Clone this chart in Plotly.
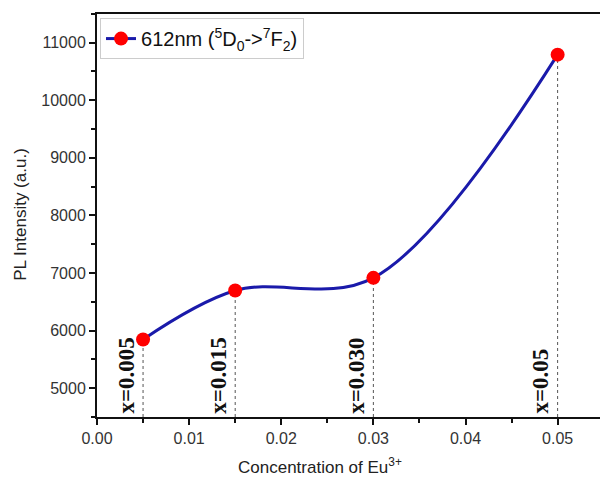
import plotly.graph_objects as go

conc = [0.005, 0.015, 0.030, 0.050]
intensity = [5845, 6695, 6915, 10790]
labels = ["x=0.005", "x=0.015", "x=0.030", "x=0.05"]
series_name = "612nm (<sup>5</sup>D<sub>0</sub>-><sup>7</sup>F<sub>2</sub>)"
x_ticks = [0.00, 0.01, 0.02, 0.03, 0.04, 0.05]
x_ticktext = ["0.00", "0.01", "0.02", "0.03", "0.04", "0.05"]
y_ticks = [5000, 6000, 7000, 8000, 9000, 10000, 11000]
y_ticktext = ["5000", "6000", "7000", "8000", "9000", "10000", "11000"]
x_title = "Concentration of Eu<sup>3+</sup>"
y_title = "PL Intensity (a.u.)"

Y0 = 4500
Y_TOP = 11530
fig = go.Figure()
fig.add_trace(go.Scatter(
    x=conc, y=intensity, mode="lines+markers", name=series_name,
    line=dict(color="#1a1aaa", width=3, shape="spline", smoothing=1.0),
    marker=dict(color="#ff0000", size=14),
))

for xv, yv, lab in zip(conc, intensity, labels):
    fig.add_shape(type="line", x0=xv, x1=xv, y0=Y0, y1=yv, xref="x", yref="y",
                  line=dict(color="#555555", width=1, dash="dot"), layer="below")
    fig.add_annotation(x=xv, y=Y0, xref="x", yref="y", text=f"<b>{lab}</b>",
                       textangle=-90, showarrow=False, xanchor="right", yanchor="bottom",
                       xshift=-3, yshift=1,
                       font=dict(family="Liberation Serif", size=23, color="#111111"))

# top frame line, in data coordinates just under the top edge
fig.add_shape(type="line", x0=0, x1=0.0546, y0=Y_TOP - 15, y1=Y_TOP - 15, xref="x", yref="y",
              line=dict(color="#111111", width=2.5), layer="above")

# x-axis title
fig.add_annotation(x=0.443, y=-0.121, xref="paper", yref="paper", text=x_title,
                   showarrow=False, xanchor="center", yanchor="middle",
                   font=dict(size=17, color="#222222"))

fig.update_layout(
    width=600, height=483,
    margin=dict(l=97, r=0, t=12, b=66),
    paper_bgcolor="white", plot_bgcolor="white",
    font=dict(family="Liberation Sans", color="#222222"),
    showlegend=True,
    legend=dict(x=0.006, y=0.985, xanchor="left", yanchor="top",
                bordercolor="#cccccc", borderwidth=1, bgcolor="white",
                font=dict(size=20, color="#111111")),
    xaxis=dict(range=[0, 0.0546], tickvals=x_ticks, ticktext=x_ticktext,
               showgrid=False, zeroline=False, showline=True, linecolor="#111111",
               linewidth=2, ticks="outside", ticklen=6, tickwidth=1.5,
               tickcolor="#111111", tickfont=dict(size=16, color="#333333"),
               minor=dict(dtick=0.005, ticks="outside", ticklen=4, tickcolor="#111111", tickwidth=1.5)),
    yaxis=dict(range=[Y0, Y_TOP], tickvals=y_ticks, ticktext=y_ticktext,
               showgrid=False, zeroline=False, showline=True, linecolor="#111111",
               linewidth=2, ticks="outside", ticklen=6, tickwidth=1.5,
               tickcolor="#111111", tickfont=dict(size=16, color="#333333"),
               minor=dict(dtick=500, ticks="outside", ticklen=4, tickcolor="#111111", tickwidth=1.5),
               title=dict(text=y_title, font=dict(size=17, color="#222222"), standoff=10)),
)

fig.write_html("out.html")
